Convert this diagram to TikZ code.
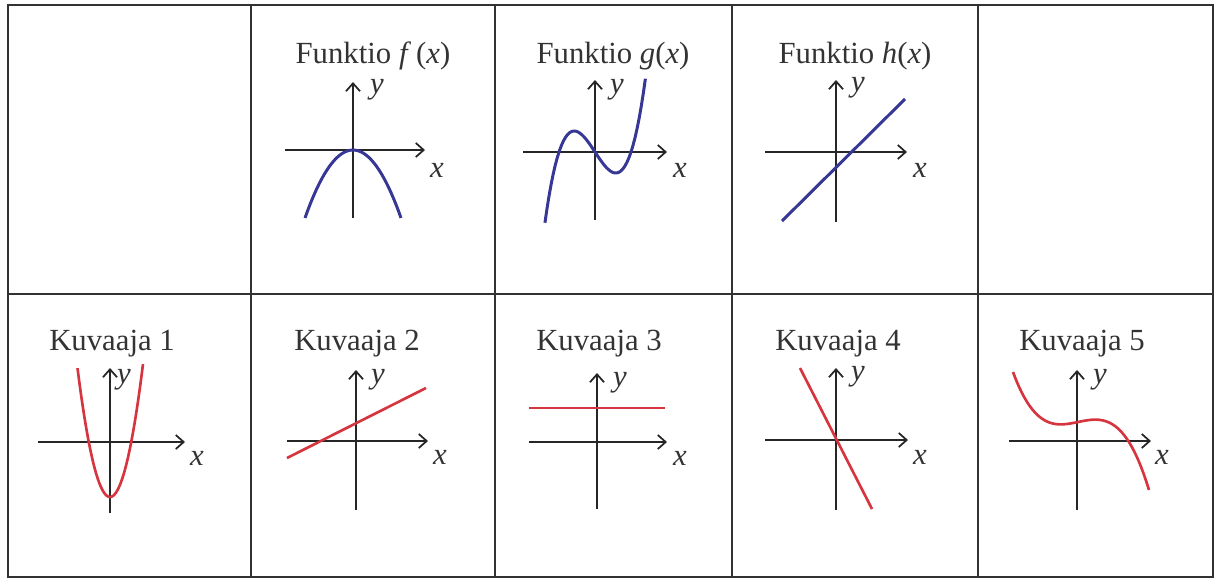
\documentclass[tikz,border=0pt]{standalone}
\usepackage{fontspec}
\setmainfont{Liberation Serif}
\usetikzlibrary{arrows.meta}
\definecolor{gridc}{RGB}{50,50,50}
\definecolor{fblue}{RGB}{55,55,150}
\definecolor{kred}{RGB}{214,52,62}
\tikzset{
  grid/.style   = {draw=gridc, line width=1.5pt},
  axis/.style   = {draw=black!85, line width=1pt, -{Straight Barb[length=4.5pt,width=8pt]}},
  fcurve/.style = {draw=fblue, line width=1.7pt},
  kcurve/.style = {draw=kred, line width=1.5pt},
  title/.style  = {anchor=base, inner sep=0pt, text=black!80,
                   font=\fontsize{17.5}{21}\selectfont},
  lab/.style    = {inner sep=0pt, text=black!80,
                   font=\fontsize{17.5}{21}\selectfont\itshape},
}

\begin{document}
\begin{tikzpicture}[x=0.02cm, y=-0.02cm]
  \useasboundingbox (0,0) rectangle (1215,579);
  % table
  \draw[grid] (8,5) rectangle (1213,577);
  \draw[grid] (8,294) -- (1213,294);
  \foreach \cx in {251,495,732,978} \draw[grid] (\cx,5) -- (\cx,577);
  % Funktio f(x)
  \node[title] (tf) at (373,63) {Funktio \textit{f}\,(\textit{x})};
  \draw[axis] (285,150) -- (425,150);
  \draw[axis] (353,218) -- (353,82);
  \node[lab] (xf) at (437,170) {x};
  \node[lab] (yf) at (377,90) {y};
  \draw[fcurve] plot[domain=-48:48, samples=40] ({353+\x},{150+0.0295*\x*\x});
  % Funktio g(x)
  \node[title] (tg) at (613,63) {Funktio \textit{g}(\textit{x})};
  \draw[axis] (523,152) -- (667,152);
  \draw[axis] (595,220) -- (595,80);
  \node[lab] (xg) at (680,170) {x};
  \node[lab] (yg) at (617,90) {y};
  \draw[fcurve] plot[domain=-1.39:1.4, samples=50] ({595+36*\x},{152-54.6*\x*(\x*\x-1)});
  % Funktio h(x)
  \node[title] (th) at (855,63) {Funktio \textit{h}(\textit{x})};
  \draw[axis] (765,152) -- (907,152);
  \draw[axis] (836,222) -- (836,80);
  \node[lab] (xh) at (920,170) {x};
  \node[lab] (yh) at (858,88) {y};
  \draw[fcurve] (782,221) -- (905,99);
  % Kuvaaja 1
  \node[title] (k1) at (112,350) {Kuvaaja 1};
  \draw[axis] (38,442) -- (185,442);
  \draw[axis] (110,513) -- (110,368);
  \node[lab] (x1) at (197,458) {x};
  \node[lab] (y1) at (124,380) {y};
  \draw[kcurve] plot[domain=-32.5:33, samples=40] ({110+\x},{497-0.122*\x*\x});
  % Kuvaaja 2
  \node[title] (k2) at (357,350) {Kuvaaja 2};
  \draw[axis] (287,441) -- (428,441);
  \draw[axis] (356,510) -- (356,370);
  \node[lab] (x2) at (440,457) {x};
  \node[lab] (y2) at (378,380) {y};
  \draw[kcurve] (287,458) -- (426,388);
  % Kuvaaja 3
  \node[title] (k3) at (599,350) {Kuvaaja 3};
  \draw[axis] (529,442) -- (667,442);
  \draw[axis] (597,509) -- (597,373);
  \node[lab] (x3) at (680,458) {x};
  \node[lab] (y3) at (620,383) {y};
  \draw[kcurve] (529,408) -- (665,408);
  % Kuvaaja 4
  \node[title] (k4) at (838,350) {Kuvaaja 4};
  \draw[axis] (765,440) -- (908,440);
  \draw[axis] (836,510) -- (836,368);
  \node[lab] (x4) at (920,457) {x};
  \node[lab] (y4) at (858,377) {y};
  \draw[kcurve] (800,368) -- (872,509);
  % Kuvaaja 5
  \node[title] (k5) at (1082,350) {Kuvaaja 5};
  \draw[axis] (1009,441) -- (1151,441);
  \draw[axis] (1077,510) -- (1077,370);
  \node[lab] (x5) at (1162,457) {x};
  \node[lab] (y5) at (1100,380) {y};
  \draw[kcurve] plot[domain=-6.5:7.1, samples=50] ({1078+10*\x},{441-(19+2.07*\x-0.231*\x*\x*\x)});
\end{tikzpicture}
\end{document}
